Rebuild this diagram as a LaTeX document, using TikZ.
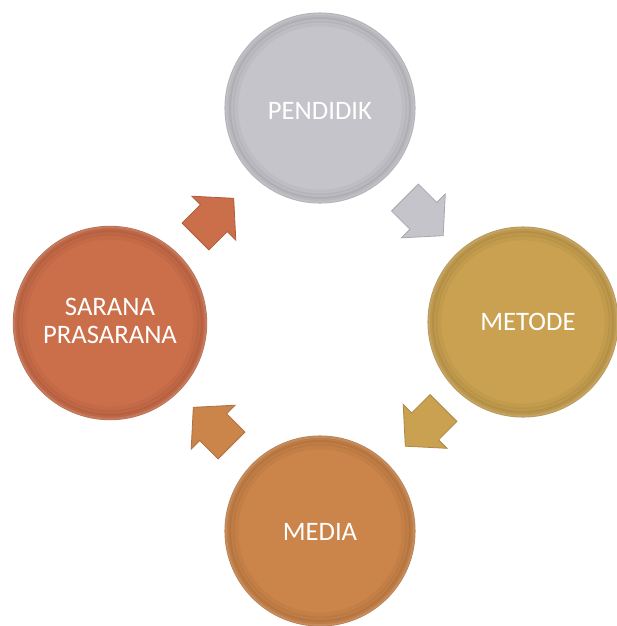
\documentclass[tikz,border=0pt]{standalone}
\usepackage{fontspec}
\setmainfont{Carlito}
\definecolor{cgray}{HTML}{C4C4CA}
\definecolor{cgold}{HTML}{C9A150}
\definecolor{cmedia}{HTML}{CB8449}
\definecolor{csarana}{HTML}{CB6E4A}
\tikzset{
  x=0.75pt, y=-0.75pt,
  disc/.style={circle, fill=#1, draw=#1!75!gray, line width=0.8pt, minimum size=142.5pt, inner sep=0pt},
  label/.style={text=white, font=\fontsize{20}{21}\selectfont, align=center},
  blockarrow/.style={fill=#1, draw=#1!85!black, line width=0.6pt, line join=miter}
}
\newcommand{\blockarr}[3]{%
  \begin{scope}[shift={#1}, rotate=#2]
    \path[blockarrow=#3] (0,-19) -- (26,-19) -- (26,-31) -- (54,0) -- (26,31) -- (26,19) -- (0,19) -- cycle;
  \end{scope}}
\newcommand{\innershade}[2]{%
  \draw[black, opacity=0.06, line width=4pt] (#1) circle (#2-2.5pt);
  \draw[black, opacity=0.05, line width=4pt] (#1) circle (#2-5pt);
  \draw[black, opacity=0.03, line width=4pt] (#1) circle (#2-8pt);
  \draw[white, opacity=0.12, line width=1.2pt] (#1) circle (#2-0.8pt);}
\begin{document}
\begin{tikzpicture}
\useasboundingbox (0,0) rectangle (617,626);
\node[disc=cgray] (pendidik) at (320,108) {};
\node[disc=cgold] (metode) at (523,322) {};
\node[disc=cmedia] (media) at (320,531) {};
\node[disc=csarana, minimum size=145pt] (sarana) at (110,323) {};
\innershade{pendidik.center}{71.25pt}
\innershade{metode.center}{71.25pt}
\innershade{media.center}{71.25pt}
\innershade{sarana.center}{72.5pt}
\node[label] (tp) at (320,111) {PENDIDIK};
\node[label] (tm) at (528,322) {METODE};
\node[label] (tmd) at (320,532) {MEDIA};
\node[label] (ts) at (110,321) {SARANA\\PRASARANA};
\blockarr{(195.5,236.5)}{45}{csarana}
\blockarr{(405,197.5)}{-45}{cgray}
\blockarr{(443.5,408)}{-135}{cgold}
\blockarr{(231.5,445.5)}{135}{cmedia}
\end{tikzpicture}
\end{document}
